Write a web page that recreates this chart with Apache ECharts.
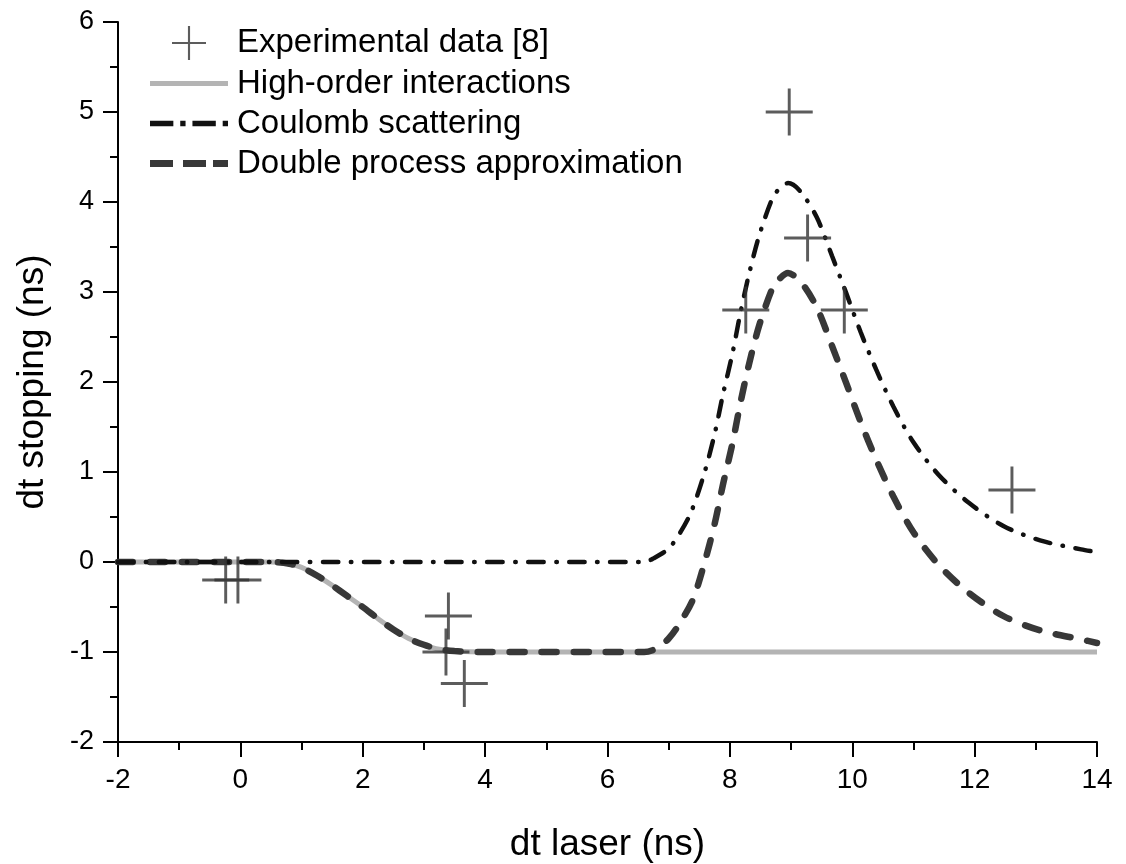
<!DOCTYPE html>
<html>
<head>
<meta charset="utf-8">
<title>dt stopping vs dt laser</title>
<script src="https://cdn.jsdelivr.net/npm/echarts@6/dist/echarts.min.js"></script>
<style>
	html, body { margin: 0; padding: 0; background: #fff; }
	#main { width: 1126px; height: 864px; }
</style>
</head>
<body>
<div id="main"></div>
<script>
	// values
	var expData = [[-0.24, -0.2], [-0.04, -0.2], [3.40, -0.6], [3.36, -1.0], [3.66, -1.35],
		[8.26, 2.8], [8.97, 5.0], [9.27, 3.6], [9.87, 2.8], [12.61, 0.8]];

	var highOrder = [[-2, 0], [0.5, 0], [0.8, -0.02], [1.0, -0.06], [1.25, -0.15], [1.5, -0.26],
		[1.75, -0.38], [2.0, -0.5], [2.25, -0.63], [2.5, -0.75], [2.75, -0.85], [3.0, -0.92],
		[3.25, -0.97], [3.5, -0.99], [4.0, -1.0], [14, -1.0]];

	var coulomb = [[-2, 0], [6.6, 0], [6.75, 0.04], [7.0, 0.15], [7.2, 0.34], [7.37, 0.56],
		[7.58, 0.98], [7.75, 1.42], [7.89, 1.87], [8.04, 2.31], [8.17, 2.76], [8.31, 3.19],
		[8.48, 3.63], [8.7, 4.05], [8.8, 4.14], [8.95, 4.21], [9.15, 4.12], [9.42, 3.83],
		[9.67, 3.4], [9.9, 2.99], [10.14, 2.55], [10.39, 2.14], [10.67, 1.73], [11.0, 1.33],
		[11.41, 0.97], [11.9, 0.66], [12.47, 0.4], [13.07, 0.24], [13.74, 0.14], [14, 0.11]];

	var doubleProc = [[-2, 0], [0.5, 0], [0.8, -0.02], [1.0, -0.06], [1.25, -0.15], [1.5, -0.26],
		[1.75, -0.38], [2.0, -0.5], [2.25, -0.63], [2.5, -0.75], [2.75, -0.85], [3.0, -0.92],
		[3.25, -0.97], [3.5, -0.99], [4.0, -1.0], [6.6, -1.0], [6.8, -0.96], [7.0, -0.85],
		[7.2, -0.66], [7.4, -0.41], [7.58, -0.02], [7.75, 0.42], [7.89, 0.87], [8.04, 1.31],
		[8.17, 1.76], [8.31, 2.19], [8.48, 2.63], [8.7, 3.05], [8.8, 3.14], [8.95, 3.21],
		[9.15, 3.12], [9.42, 2.83], [9.67, 2.4], [9.9, 1.99], [10.14, 1.55], [10.39, 1.14],
		[10.67, 0.73], [11.0, 0.33], [11.41, -0.03], [11.9, -0.34], [12.47, -0.6], [13.07, -0.76],
		[13.74, -0.86], [14, -0.9]];

	var seriesNames = ['Experimental data [8]', 'High-order interactions', 'Coulomb scattering', 'Double process approximation'];

	var font = "'Liberation Sans', Arial, sans-serif";
	// plus sign as a filled path, so the stroke width stays fixed
	var crossPath = 'path://M-1.5,-24 L1.5,-24 L1.5,-1.5 L24,-1.5 L24,1.5 L1.5,1.5 L1.5,24 L-1.5,24 L-1.5,1.5 L-24,1.5 L-24,-1.5 L-1.5,-1.5 Z';
	// legend samples for the three curves
	var solidIcon = 'path://M0,0 L78,0 L78,5 L0,5 Z';
	var dashDotIcon = 'path://M0,0 L22,0 L22,5 L0,5 Z M28.5,0 L33.5,0 L33.5,5 L28.5,5 Z M40,0 L62,0 L62,5 L40,5 Z M68.5,0 L73.5,0 L73.5,5 L68.5,5 Z';
	var dashIcon = 'path://M0,0 L23,0 L23,7 L0,7 Z M33,0 L56,0 L56,7 L33,7 Z M63,0 L78,0 L78,7 L63,7 Z';

	var mychart = echarts.init(document.getElementById('main'));

	var option = {
		animation: false,
		backgroundColor: '#fff',
		textStyle: { fontFamily: font },
		grid: { left: 118, right: 29, top: 22, bottom: 122, containLabel: false, outerBoundsMode: 'none' },
		legend: {
			orient: 'vertical',
			left: 145,
			top: 21,
			itemWidth: 78,
			itemHeight: 34,
			itemGap: 7,
			textStyle: { fontSize: 33, color: '#000', fontFamily: font, padding: [0, 0, 0, 4] },
			data: [
				{ name: seriesNames[0], icon: crossPath, itemStyle: { color: '#333', borderWidth: 0 } },
				{ name: seriesNames[1], icon: solidIcon, itemStyle: { color: '#b4b4b4', borderWidth: 0 } },
				{ name: seriesNames[2], icon: dashDotIcon, itemStyle: { color: '#111', borderWidth: 0 } },
				{ name: seriesNames[3], icon: dashIcon, itemStyle: { color: '#383838', borderWidth: 0 } }
			]
		},
		xAxis: {
			type: 'value',
			min: -2,
			max: 14,
			interval: 2,
			name: 'dt laser (ns)',
			nameLocation: 'middle',
			nameGap: 84,
			nameTextStyle: { fontSize: 37, color: '#000', fontFamily: font },
			axisLine: { onZero: false, lineStyle: { color: '#000', width: 2 } },
			axisTick: { show: true, length: 15, lineStyle: { color: '#000', width: 2 } },
			minorTick: { show: true, splitNumber: 2, length: 8, lineStyle: { color: '#000', width: 2 } },
			axisLabel: { fontSize: 28, color: '#000', margin: 24, fontFamily: font },
			splitLine: { show: false }
		},
		yAxis: {
			type: 'value',
			min: -2,
			max: 6,
			interval: 1,
			name: 'dt stopping (ns)',
			nameLocation: 'middle',
			nameGap: 67,
			nameTextStyle: { fontSize: 37, color: '#000', fontFamily: font },
			axisLine: { show: true, onZero: false, lineStyle: { color: '#000', width: 2 } },
			axisTick: { show: true, length: 15, lineStyle: { color: '#000', width: 2 } },
			minorTick: { show: true, splitNumber: 2, length: 8, lineStyle: { color: '#000', width: 2 } },
			axisLabel: { fontSize: 27, color: '#000', margin: 24, fontFamily: font },
			splitLine: { show: false }
		},
		series: [
			{
				name: seriesNames[0],
				type: 'scatter',
				symbol: crossPath,
				symbolSize: 47,
				itemStyle: { color: '#333' },
				z: 5,
				data: expData
			},
			{
				name: seriesNames[1],
				type: 'line',
				symbol: 'none',
				smooth: 0.3,
				lineStyle: { color: '#b4b4b4', width: 5 },
				itemStyle: { color: '#b4b4b4' },
				z: 2,
				data: highOrder
			},
			{
				name: seriesNames[2],
				type: 'line',
				symbol: 'none',
				smooth: 0.3,
				lineStyle: { color: '#111', width: 4.5, type: [15.5, 12.5, 0.5, 12.5], cap: 'round' },
				itemStyle: { color: '#111' },
				z: 4,
				data: coulomb
			},
			{
				name: seriesNames[3],
				type: 'line',
				symbol: 'none',
				smooth: 0.3,
				lineStyle: { color: '#383838', width: 6.5, type: [15, 17], cap: 'round' },
				itemStyle: { color: '#383838' },
				z: 3,
				data: doubleProc
			}
		]
	};
	mychart.setOption(option);

	window.addEventListener('resize', function() {
		mychart.resize();
	});
</script>
</body>
</html>
